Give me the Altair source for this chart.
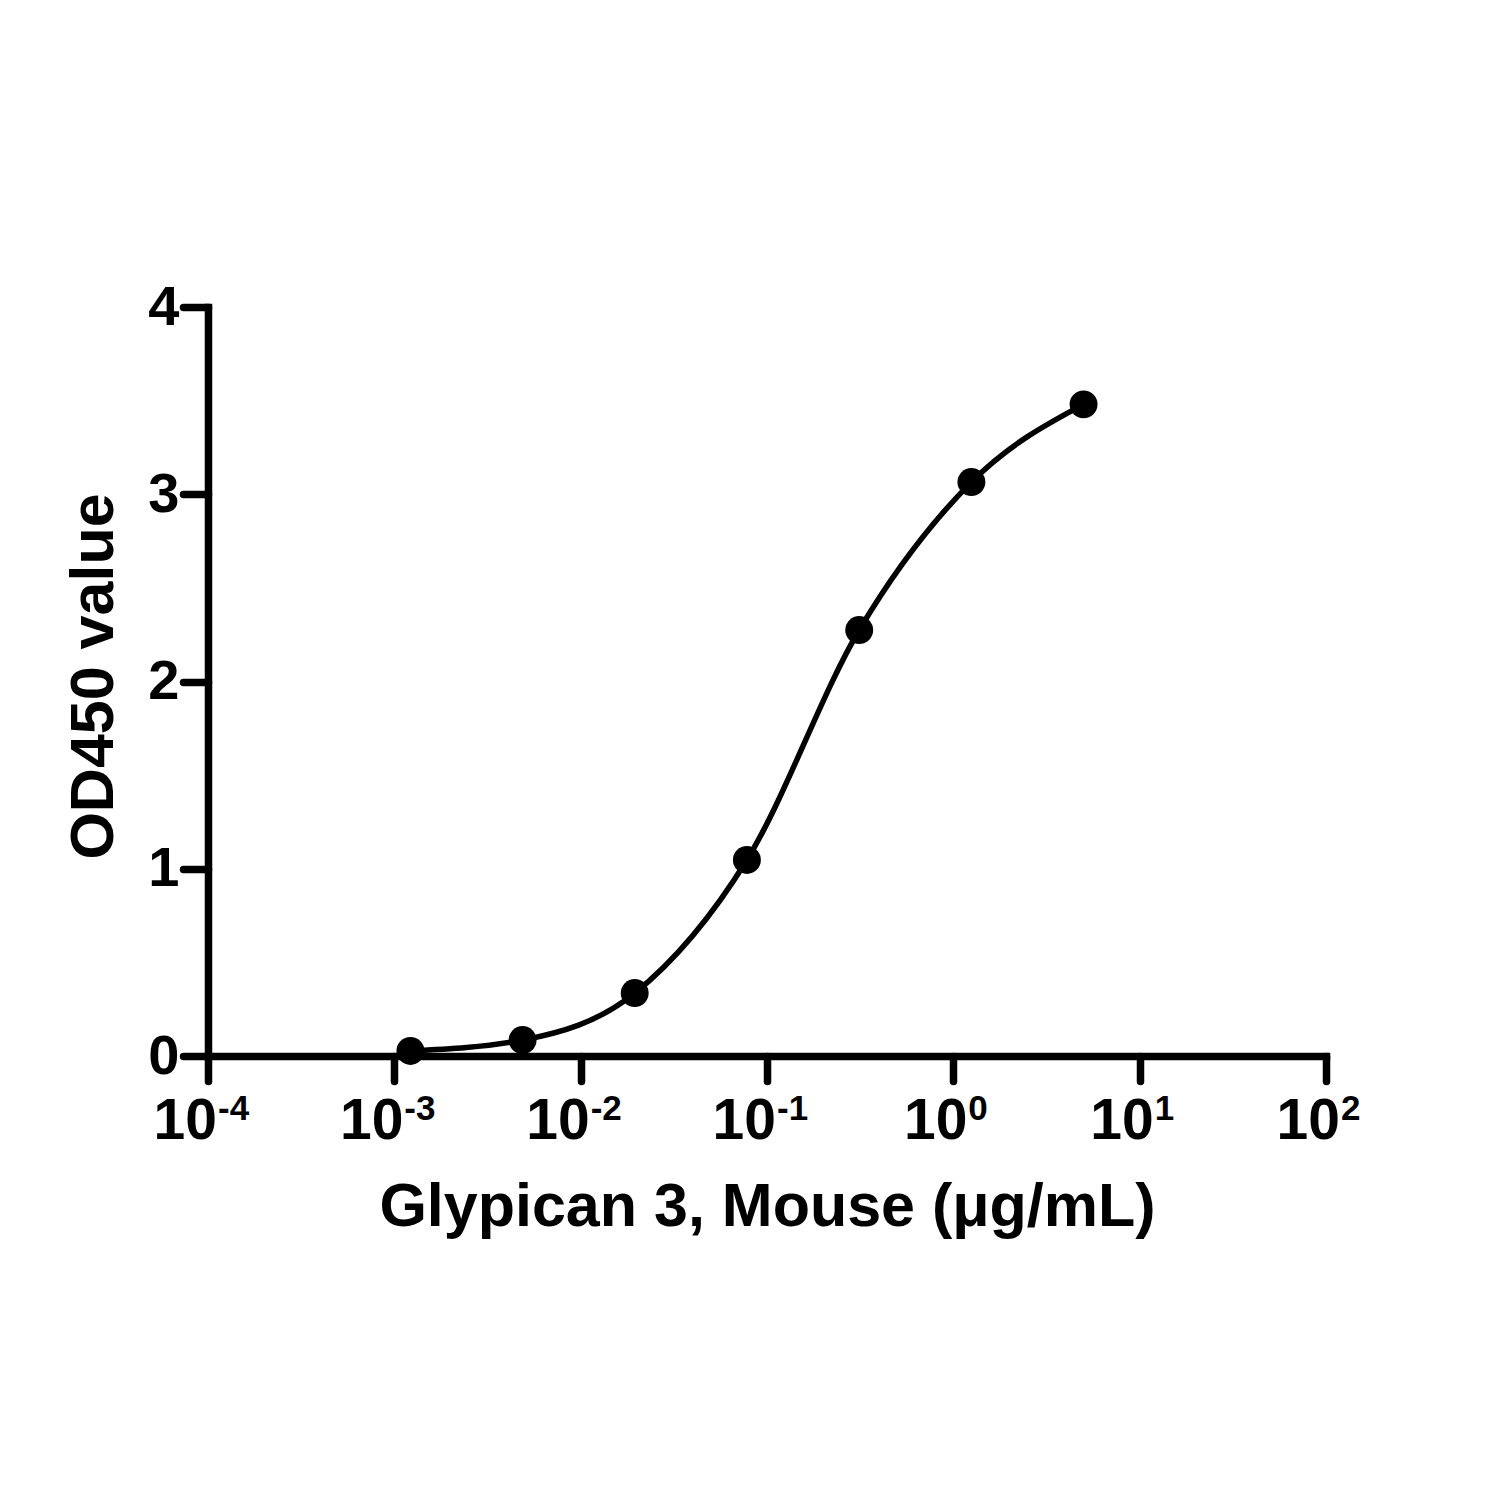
import altair as alt
import pandas as pd

# Data
conc = [0.00122, 0.00488, 0.0195, 0.078, 0.3125, 1.25, 5.0]
od450 = [0.027, 0.085, 0.336, 1.047, 2.275, 3.065, 3.48]

x_ticks = [1e-4, 1e-3, 1e-2, 1e-1, 1e0, 1e1, 1e2]
x_exps = ["-4", "-3", "-2", "-1", "0", "1", "2"]
y_ticks = [0, 1, 2, 3, 4]

x_title = "Glypican 3, Mouse (\u03bcg/mL)"
y_title = "OD450 value"

FONT = "Liberation Sans"

df = pd.DataFrame({"conc": conc, "od": od450})
ticks = pd.DataFrame({"conc": x_ticks, "exp": x_exps, "base": ["10"] * len(x_ticks)})
ticks["neg"] = ticks["exp"].str.startswith("-")

xscale = alt.Scale(type="log", domain=[1e-4, 1e2], nice=False)
yscale = alt.Scale(domain=[0, 4], nice=False, zero=True)

x_axis = alt.Axis(
    values=x_ticks, labels=False, grid=False,
    tickSize=25, tickWidth=7.5, tickColor="black", tickCap="round",
    domainWidth=7.5, domainColor="black", domainCap="square",
    title=x_title, titleFont=FONT, titleFontSize=61, titleFontWeight="bold",
    titleColor="black", titleBaseline="alphabetic", titleY=169,
    titleAnchor="middle",
)
y_axis = alt.Axis(
    values=y_ticks, format="d", grid=False,
    tickSize=25, tickWidth=7.5, tickColor="black", tickCap="round",
    domainWidth=7.5, domainColor="black", domainCap="square",
    labelFont=FONT, labelFontSize=56, labelFontWeight="bold", labelColor="black",
    labelPadding=4,
    title=y_title, titleFont=FONT, titleFontSize=61, titleFontWeight="bold",
    titleColor="black", titleAngle=270, titleBaseline="alphabetic",
    titleX=-96, titleY=369, titleAlign="center",
)

X = alt.X("conc:Q", scale=xscale, axis=x_axis)
Y = alt.Y("od:Q", scale=yscale, axis=y_axis)

line = alt.Chart(df).mark_line(
    color="black", strokeWidth=5.5, interpolate="monotone"
).encode(x=X, y=Y)

points = alt.Chart(df).mark_circle(color="black", opacity=1, size=780).encode(x=X, y=Y)


def tick_labels(neg, dx):
    base = alt.Chart(ticks).transform_filter(
        alt.datum.neg if neg else ~alt.datum.neg
    )
    tens = base.mark_text(
        font=FONT, fontSize=57, fontWeight="bold", color="black",
        align="right", baseline="alphabetic", dx=dx,
    ).encode(x=X, y=alt.value(832), text="base:N")
    sup = base.mark_text(
        font=FONT, fontSize=35, fontWeight="bold", color="black",
        align="left", baseline="alphabetic", dx=dx + 1,
    ).encode(x=X, y=alt.value(813), text="exp:N")
    return [tens, sup]


layers = [line, points] + tick_labels(True, 9) + tick_labels(False, 14)

chart = alt.layer(*layers).properties(
    width=1118, height=749,
    autosize=alt.AutoSizeParams(type="none"),
    padding={"left": 200, "top": 299, "right": 166, "bottom": 436},
    background="white",
).configure_view(stroke=None)

chart.save("out.html", embed_options={"renderer": "svg", "actions": False})
